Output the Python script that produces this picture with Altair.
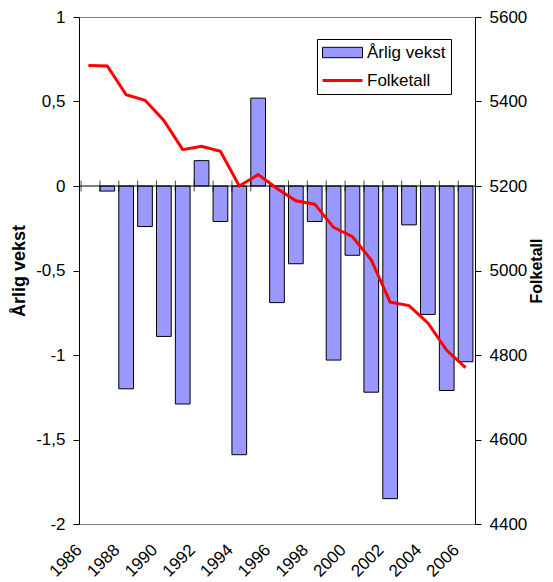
import altair as alt
import pandas as pd

years = list(range(1986, 2007))
vekst = [None, -0.03, -1.20, -0.24, -0.89, -1.29, 0.15, -0.21, -1.59, 0.52, -0.69,
         -0.46, -0.21, -1.03, -0.41, -1.22, -1.85, -0.23, -0.76, -1.21, -1.04]
folketall = [5485, 5484, 5416, 5403, 5355, 5286, 5294, 5282, 5200, 5227, 5194,
             5165, 5157, 5102, 5080, 5025, 4925, 4917, 4876, 4811, 4770]
series = ["Årlig vekst", "Folketall"]
colors = ["#9999FF", "#FF0000"]
left_ticks = [-2, -1.5, -1, -0.5, 0, 0.5, 1]
right_ticks = [4400, 4600, 4800, 5000, 5200, 5400, 5600]
year_labels = years[::2]

df = pd.DataFrame({"year": years, "vekst": vekst, "folketall": folketall,
                   "serie": series[0]})
zero_df = pd.DataFrame({"z": [0]})

FONT = "Liberation Sans"

x_enc = alt.X(
    "year:O",
    scale=alt.Scale(paddingInner=0.22, paddingOuter=0.11),
    axis=alt.Axis(values=year_labels, title=None, domain=False, ticks=False,
                  tickSize=0, labelAngle=-45, labelAlign="right",
                  labelBaseline="middle", labelPadding=23, labelOffset=-9,
                  labelFontSize=17, labelColor="black", labelOverlap=False,
                  grid=False),
)

legend = alt.Legend(
    orient="none", legendX=238, legendY=22, title=None,
    strokeColor="black", fillColor="white", padding=5,
    labelFontSize=17, labelFont=FONT, labelColor="black",
    labelOffset=16, symbolOffset=12, rowPadding=10, symbolSize=121,
    symbolType={"expr": "datum.label == 'Folketall' ? 'M-3.636,-0.273H3.636V0.273H-3.636Z' : 'M-3.636,-0.945H3.636V0.945H-3.636Z'"},
    symbolStrokeColor="black",
    symbolStrokeWidth={"expr": "datum.label == 'Folketall' ? 0 : 1"},
    symbolOpacity=1,
)

bars = alt.Chart(df).mark_bar(stroke="black").encode(
    x=x_enc,
    y=alt.Y("vekst:Q",
            scale=alt.Scale(domain=[-2, 1], nice=False, zero=False),
            axis=alt.Axis(values=left_ticks, title="Årlig vekst",
                          labelExpr="replace(toString(datum.value), '.', ',')",
                          grid=False, domainColor="black", tickColor="black",
                          tickSize=6, labelPadding=8, labelFontSize=17,
                          labelColor="black", labelFlush=False,
                          titleFontSize=18, titleFontWeight="bold",
                          titleColor="black", titlePadding=7)),
    color=alt.Color("serie:N", scale=alt.Scale(domain=series, range=colors),
                    legend=legend),
)

zero = alt.Chart(zero_df).mark_rule(color="black", strokeWidth=1).encode(
    y=alt.Y("z:Q")
)

ticks = alt.Chart(df).mark_tick(orient="vertical", color="black", size=11,
                                thickness=1).encode(
    x=alt.X("year:O", bandPosition=0),
    y=alt.datum(0),
)

inner = alt.layer(bars, zero, ticks)

line = alt.Chart(df).mark_line(color="#FF0000", strokeWidth=3).encode(
    x=alt.X("year:O"),
    y=alt.Y("folketall:Q",
            scale=alt.Scale(domain=[4400, 5600], nice=False, zero=False),
            axis=alt.Axis(orient="right", values=right_ticks, format="d",
                          title="Folketall", grid=False, domainColor="black",
                          tickColor="black", tickSize=6, labelPadding=8,
                          labelFontSize=17, labelColor="black",
                          labelFlush=False, titleFontSize=16,
                          titleFontWeight="bold", titleColor="black",
                          titleAngle=270, titleBaseline="top",
                          titlePadding=2)),
)

chart = alt.layer(inner, line).resolve_scale(y="independent").properties(
    width=396, height=507,
    autosize=alt.AutoSizeParams(type="none"),
    padding={"left": 71, "top": 9, "right": 70, "bottom": 60},
).configure(font=FONT).configure_view(stroke="#808080", strokeWidth=1)

chart.save("out.html", embed_options={"renderer": "svg", "actions": False})
